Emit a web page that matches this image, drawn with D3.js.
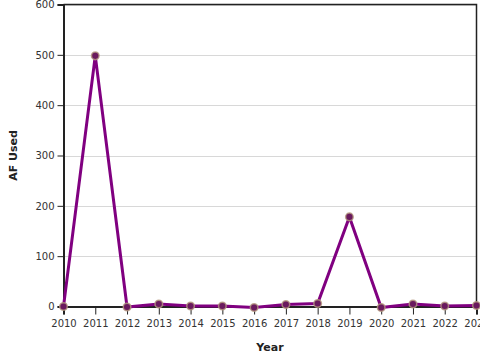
<!DOCTYPE html>
<html><head><meta charset="utf-8">
<script src="https://cdn.jsdelivr.net/npm/d3@7"></script>
<style>body{margin:0;background:#fff}svg{display:block;font-family:"DejaVu Sans",sans-serif}</style>
</head><body><svg id="c" width="480" height="360"></svg>
<script>
const years = [2010,2011,2012,2013,2014,2015,2016,2017,2018,2019,2020,2021,2022,2023];
const afUsed = [0,498,-1,5,1,1,-2,4,6,178,-2,5,1,2];
const yTicks = [0,100,200,300,400,500,600];

const svg = d3.select("#c");
const L=63.5, R=476.5, T=4.5, B=306.5;
const x = d3.scaleLinear().domain([2010,2023]).range([L,R]);
const y = d3.scaleLinear().domain([0,600]).range([B,T]);

svg.append("g").selectAll("line").data(yTicks.filter(d=>d>0)).join("line")
  .attr("x1",L).attr("x2",R).attr("y1",d=>Math.round(y(d))+0.5).attr("y2",d=>Math.round(y(d))+0.5)
  .attr("stroke","#d8d8d8").attr("stroke-width",1);

svg.append("path").attr("d",`M${L},${T}H${R}V${B}`).attr("fill","none").attr("stroke","#222").attr("stroke-width",1.5);

const xa = svg.append("g").attr("transform",`translate(0,${B})`)
  .call(d3.axisBottom(x).tickValues(years).tickFormat(d3.format("d")).tickSize(8).tickPadding(5));
const ya = svg.append("g").attr("transform",`translate(${L},0)`)
  .call(d3.axisLeft(y).tickValues(yTicks).tickSize(6).tickPadding(3));
[xa,ya].forEach(a=>{
  a.selectAll(".domain").attr("stroke","#222").attr("stroke-width",2);
  a.selectAll(".tick line").attr("stroke","#222");
  a.selectAll("text").attr("fill","#333").style("font-size","10px").style("font-family","DejaVu Sans");
});

const pts = years.map((d,i)=>[d,afUsed[i]]);
svg.append("path").datum(pts)
  .attr("d",d3.line().x(d=>x(d[0])).y(d=>y(d[1])))
  .attr("fill","none").attr("stroke","#800080").attr("stroke-width",3).attr("stroke-linejoin","miter");

svg.append("g").selectAll("circle").data(pts).join("circle")
  .attr("cx",d=>x(d[0])).attr("cy",d=>y(d[1])).attr("r",3.8)
  .attr("fill","#6a1a5e").attr("stroke","#b59a80").attr("stroke-opacity",0.8).attr("stroke-width",1.5);

svg.append("text").attr("x",(L+R)/2).attr("y",351).attr("text-anchor","middle")
  .style("font-size","11px").style("font-weight","bold").attr("fill","#222").text("Year");
svg.append("text").attr("transform",`translate(17,${(T+B)/2}) rotate(-90)`).attr("text-anchor","middle")
  .style("font-size","11px").style("font-weight","bold").attr("fill","#222").text("AF Used");
</script></body></html>
